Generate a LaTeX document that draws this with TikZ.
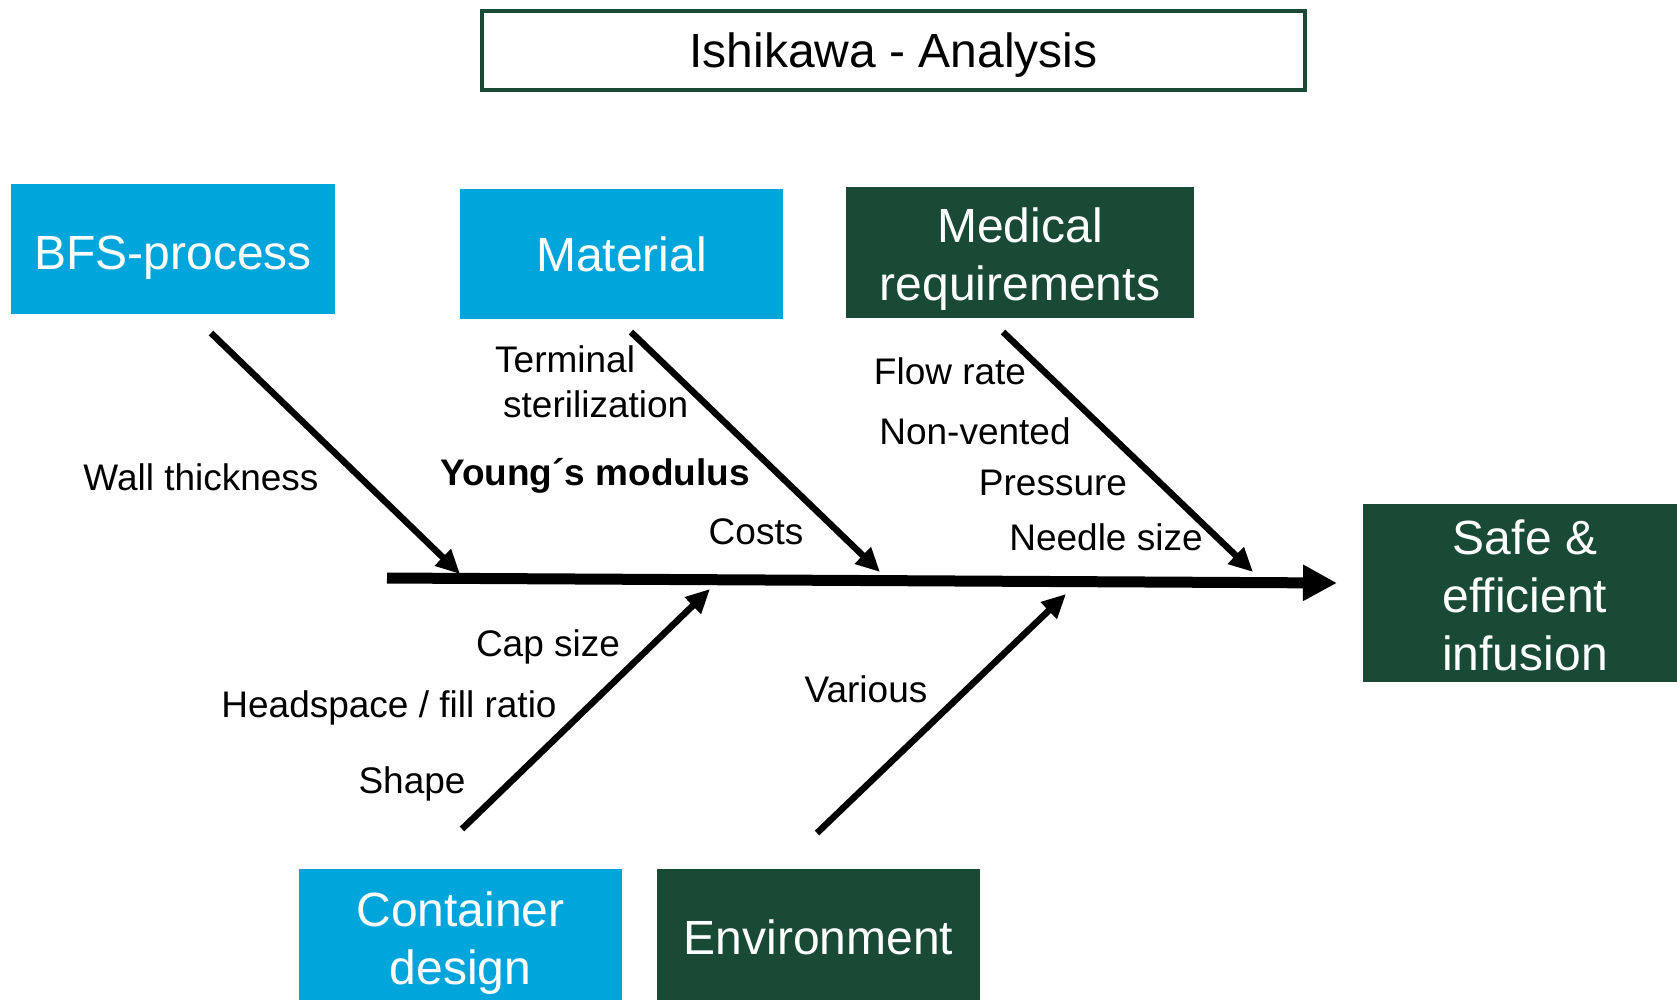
\documentclass[tikz,border=0pt]{standalone}
\usepackage{fontspec}
\setmainfont{Liberation Sans}
\usetikzlibrary{arrows.meta}
\definecolor{cblue}{RGB}{0,166,219}
\definecolor{cgreen}{RGB}{24,74,54}
\begin{document}
\begin{tikzpicture}[x=1pt,y=-1pt,
 box/.style={rectangle, inner sep=0pt, text=white, font=\fontsize{48}{58}\selectfont, align=center},
 bluebox/.style={box, fill=cblue},
 greenbox/.style={box, fill=cgreen},
 lab/.style={font=\fontsize{37}{45}\selectfont, inner sep=0pt},
 bone/.style={line width=6.5pt, -{Triangle[length=24pt,width=22pt]}},
 spine/.style={line width=11pt, -{Triangle[length=34pt,width=34pt]}}]
\useasboundingbox (0,0) rectangle (1677,999);

% title
\node[rectangle, draw=cgreen, line width=4pt, minimum width=823pt, minimum height=79pt,
      font=\fontsize{48}{58}\selectfont, inner sep=0pt] (title) at (893.5,50.5) {\rule{0pt}{44pt}Ishikawa - Analysis};

% category boxes
\node[bluebox, minimum width=324pt, minimum height=130pt] (bfs) at (173,249) {\rule{0pt}{50pt}BFS-process};
\node[bluebox, minimum width=323pt, minimum height=130pt] (mat) at (621.5,254) {Material};
\node[greenbox, minimum width=348pt, minimum height=131pt] (med) at (1020,252.5) {\rule{0pt}{48pt}Medical\\requirements};
\node[bluebox, minimum width=323pt, minimum height=136pt] (cont) at (460.5,937) {\rule{0pt}{46pt}Container\\design};
\node[greenbox, minimum width=323pt, minimum height=136pt] (env) at (818.5,937) {Environment};
\node[greenbox, minimum width=324pt, minimum height=178pt] (eff) at (1525,593) {\rule{0pt}{39pt}Safe \&\\efficient\\infusion};

% spine
\coordinate (s0) at (387,578);
\coordinate (s1) at (1337,583);
\draw[spine] (s0) -- (s1);

% bones
\coordinate (b1a) at (211,333);  \coordinate (b1b) at (460,574);
\coordinate (b2a) at (631,332);  \coordinate (b2b) at (880,572);
\coordinate (b3a) at (1003,332); \coordinate (b3b) at (1253,572);
\coordinate (b4a) at (462,829);  \coordinate (b4b) at (710,589);
\coordinate (b5a) at (817,833);  \coordinate (b5b) at (1066,594);
\draw[bone] (b1a) -- (b1b);
\draw[bone] (b2a) -- (b2b);
\draw[bone] (b3a) -- (b3b);
\draw[bone] (b4a) -- (b4b);
\draw[bone] (b5a) -- (b5b);

% labels
\node[lab] (l1) at (201,477) {Wall thickness};
\node[lab, anchor=west, align=left] (l2) at (495,381.5) {Terminal\\\hspace*{8pt}sterilization};
\node[lab, font=\fontsize{37}{45}\selectfont\bfseries] (l3) at (595,475.5) {Young´s modulus};
\node[lab] (l4) at (756,532) {Costs};
\node[lab] (l5) at (950,371) {Flow rate};
\node[lab] (l6) at (975,431) {Non-vented};
\node[lab] (l7) at (1053,483) {Pressure};
\node[lab] (l8) at (1106,537) {Needle size};
\node[lab] (l9) at (548,647) {Cap size};
\node[lab] (l10) at (389,707.5) {Headspace / fill ratio};
\node[lab] (l11) at (412,783.5) {Shape};
\node[lab] (l12) at (866,689) {Various};
\end{tikzpicture}
\end{document}
